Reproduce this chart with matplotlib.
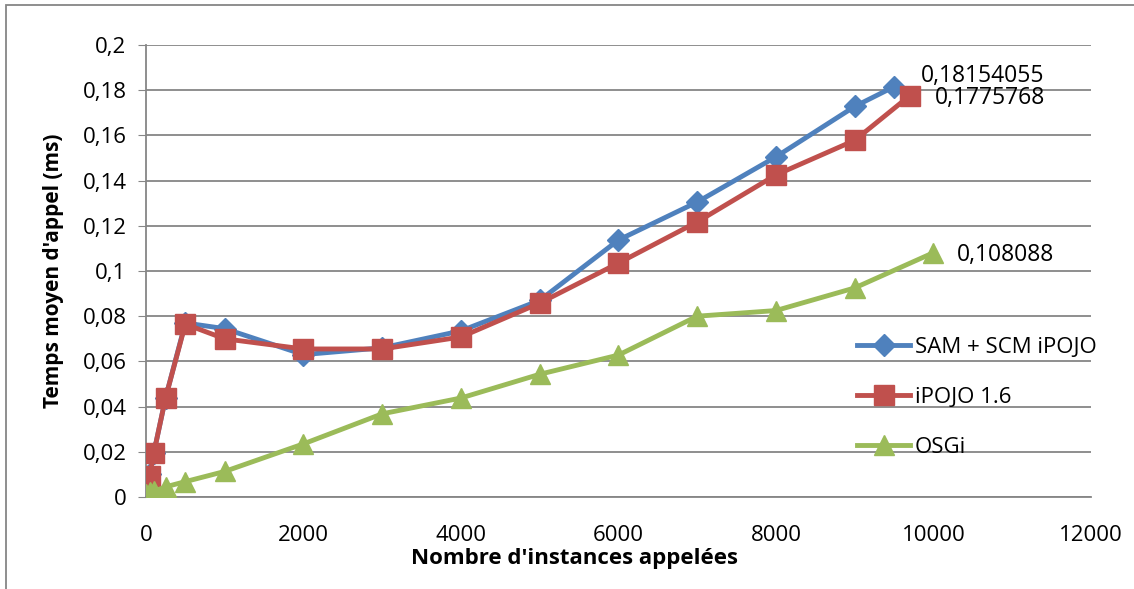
import matplotlib.pyplot as plt
from matplotlib.ticker import FuncFormatter, MultipleLocator
from matplotlib.patches import Rectangle

plt.rcParams['font.family'] = ['Open Sans', 'DejaVu Sans']

# données
x_sam = [0, 50, 100, 250, 500, 1000, 2000, 3000, 4000, 5000, 6000, 7000, 8000, 9000, 9500]
y_sam = [0.004, 0.010, 0.0195, 0.044, 0.077, 0.0745, 0.063, 0.066, 0.0735, 0.087,
         0.1137, 0.1305, 0.1505, 0.1728, 0.18154055]

x_ipojo = [10, 50, 100, 250, 500, 1000, 2000, 3000, 4000, 5000, 6000, 7000, 8000, 9000, 9700]
y_ipojo = [0.004, 0.0095, 0.0195, 0.044, 0.0765, 0.070, 0.0655, 0.0655, 0.0708, 0.0858,
           0.1035, 0.1217, 0.1425, 0.1578, 0.1775768]

x_osgi = [0, 50, 100, 250, 500, 1000, 2000, 3000, 4000, 5000, 6000, 7000, 8000, 9000, 10000]
y_osgi = [0.0015, 0.002, 0.0025, 0.0045, 0.0068, 0.0113, 0.0235, 0.0368, 0.0438, 0.0543,
          0.0628, 0.080, 0.0825, 0.0925, 0.108088]

labels = ['SAM + SCM iPOJO', 'iPOJO 1.6', 'OSGi']
colors = ['#4F81BD', '#C0504D', '#9BBB59']


def fr(v):
    return str(v).replace('.', ',')


fig = plt.figure(figsize=(11.34, 5.89), dpi=100)
ax = fig.add_axes([0.1287, 0.1562, 0.962 - 0.1287, 0.9236 - 0.1562])

l1, = ax.plot(x_sam, y_sam, color=colors[0], lw=3.5, marker='D', ms=11, label=labels[0], zorder=3)
l2, = ax.plot(x_ipojo, y_ipojo, color=colors[1], lw=3.5, marker='s', ms=14, label=labels[1], zorder=4)
l3, = ax.plot(x_osgi, y_osgi, color=colors[2], lw=3.5, marker='^', ms=14, label=labels[2], zorder=5)

ax.set_xlim(0, 12000)
ax.set_ylim(0, 0.2)
ax.xaxis.set_major_locator(MultipleLocator(2000))
ax.yaxis.set_major_locator(MultipleLocator(0.02))
ax.yaxis.set_major_formatter(FuncFormatter(lambda v, p: f"{v:g}".replace('.', ',')))
ax.grid(axis='y', color='#868686', lw=1.3)
ax.set_axisbelow(True)
for s in ['top', 'right']:
    ax.spines[s].set_visible(False)
for s in ['left', 'bottom']:
    ax.spines[s].set_color('#868686')
    ax.spines[s].set_linewidth(1.3)
ax.tick_params(axis='x', length=0, pad=20, labelsize=16)
ax.tick_params(axis='y', length=6, color='#868686', pad=8, labelsize=16)

ax.set_xlabel("Nombre d'instances appelées", fontsize=16, fontweight='bold')
ax.set_ylabel("Temps moyen d'appel (ms)", fontsize=15, fontweight='bold')
ax.xaxis.set_label_coords(0.454, -0.113)
ax.yaxis.set_label_coords(-0.087, 0.5)

# étiquettes des derniers points
ax.annotate(fr(y_sam[-1]), (x_sam[-1], y_sam[-1]), xytext=(19, 8), textcoords='offset points',
            fontsize=16.5, va='center', ha='left')
ax.annotate(fr(y_ipojo[-1]), (x_ipojo[-1], y_ipojo[-1]), xytext=(18, -2), textcoords='offset points',
            fontsize=16.5, va='center', ha='left')
ax.annotate(fr(y_osgi[-1]), (x_osgi[-1], y_osgi[-1]), xytext=(17, -2), textcoords='offset points',
            fontsize=16.5, va='center', ha='left')

fig.legend(handles=[l1, l2, l3], loc='upper left', bbox_to_anchor=(0.748, 0.443),
           frameon=False, fontsize=16, handlelength=2.4, handletextpad=0.2,
           labelspacing=1.3, borderaxespad=0)

fig.patches.append(Rectangle((0.005, -0.1), 1.2, 1.092, transform=fig.transFigure,
                             fill=False, edgecolor='#868686', lw=1.3))

fig.savefig('out.png', dpi=100)
